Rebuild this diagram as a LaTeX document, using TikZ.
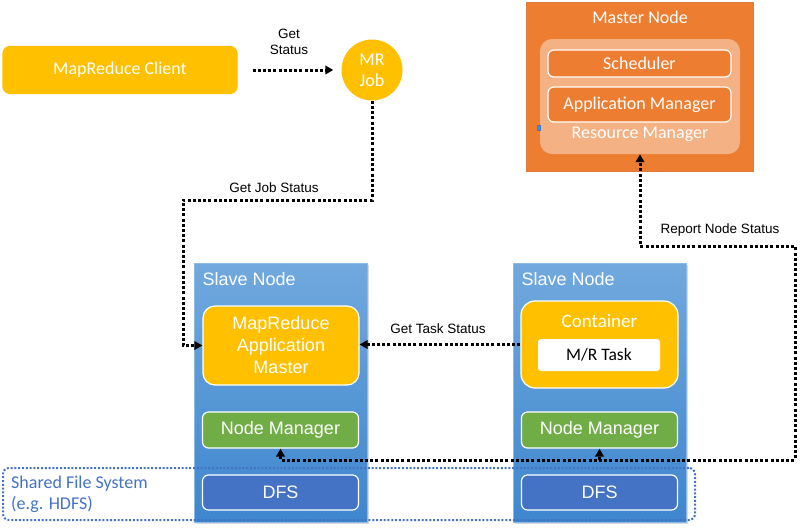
\documentclass[tikz,border=0pt]{standalone}
\usepackage{fontspec}
\setmainfont{Liberation Sans}
\newfontfamily\calibri{Carlito}
\usetikzlibrary{positioning,arrows.meta,shadows}
\definecolor{mryellow}{RGB}{255, 192, 0}
\definecolor{mrorange}{RGB}{237, 125, 49}
\definecolor{mrgreen}{RGB}{112, 173, 71}
\definecolor{mrblue}{RGB}{68, 114, 196}
\definecolor{slavetop}{RGB}{113, 169, 222}
\definecolor{slavebottom}{RGB}{62, 134, 206}

\begin{document}
\begin{tikzpicture}[x=1pt, y=-1pt,
    >={Triangle[length=8pt, width=8.5pt]},
    box/.style={draw=white, line width=1.2pt, rounded corners=6pt, text=white, align=center, inner sep=0pt, font=\fontsize{18}{22}\selectfont},
    yellowbox/.style={box, fill=mryellow},
    orangebox/.style={box, fill=mrorange, minimum width=183, font=\calibri\fontsize{18}{22}\selectfont},
    greenbox/.style={box, fill=mrgreen, minimum width=156, minimum height=36},
    dfsbox/.style={box, fill=mrblue, minimum width=156, minimum height=35},
    slave/.style={top color=slavetop, bottom color=slavebottom, draw=slavetop!80!white, line width=0.5pt, minimum width=173, minimum height=259, drop shadow={shadow xshift=1.5pt, shadow yshift=-1.5pt, opacity=0.3}},
    title/.style={text=white, inner sep=0pt, font=\fontsize{18}{22}\selectfont},
    calititle/.style={text=white, inner sep=0pt, font=\calibri\fontsize{18}{22}\selectfont},
    link/.style={draw, line width=3pt, dash pattern=on 3pt off 2.2pt},
    linklabel/.style={align=center, inner sep=0pt, font=\fontsize{13.5}{16}\selectfont}
    ]
    \useasboundingbox (0,0) rectangle (800,528);

    % Client and job
    \node[yellowbox, draw=mryellow, rounded corners=7pt, minimum width=234, minimum height=47, font=\calibri\fontsize{18}{22}\selectfont] (client) at (120,70) {MapReduce Client};
    \node[circle, fill=mryellow, minimum size=61, inner sep=0pt, text=white, align=center, font=\calibri\fontsize{18}{21}\selectfont] (job) at (372,70) {MR\\Job};

    % Master node
    \node[fill=mrorange, draw=mrorange!85!gray, line width=0.6pt, minimum width=227, minimum height=169] (master) at (639.5,86.5) {};
    \node[calititle] (masterlabel) at (640,17) {Master Node};
    \node[fill=mrorange!60!white, rounded corners=12pt, minimum width=200, minimum height=115] (rm) at (640,96.5) {};
    \node[orangebox, minimum height=27] (sched) at (639.5,63.5) {Scheduler};
    \node[orangebox, minimum height=35] (appmgr) at (639.5,104.5) {Application Manager};
    \node[calititle] (rmlabel) at (640,134) {Resource Manager};
    \node[fill=mrblue!70!cyan, draw=mrblue, line width=0.3pt, minimum width=3, minimum height=5, inner sep=0pt] (handle) at (539,128) {};

    % Slave nodes
    \foreach [count = \i] \x in {280.5, 599.5} {
        \node[slave] (slave\i) at (\x,392.5) {};
        \node[title, anchor=west] (slavelabel\i) at (\x-78,279) {Slave Node};
        \node[greenbox] (nm\i) at (\x,430) {Node Manager};
        \node[dfsbox] (dfs\i) at (\x,492.5) {DFS};
    }
    \node[yellowbox, rounded corners=12pt, minimum width=156, minimum height=79] (am) at (281,345.5) {MapReduce\\Application\\Master};
    \node[yellowbox, rounded corners=14pt, minimum width=157, minimum height=87] (ct) at (599.5,344.5) {};
    \node[calititle, font=\calibri\fontsize{19}{22}\selectfont] (ctlabel) at (599.5,321) {Container};
    \node[fill=white, rounded corners=3pt, minimum width=122, minimum height=32, inner sep=0pt, font=\calibri\fontsize{17.5}{21}\selectfont] (task) at (599,355) {M/R Task};

    % Shared file system
    \node[draw=mrblue, line width=2pt, dash pattern=on 2pt off 1.8pt, rounded corners=6pt, minimum width=692, minimum height=52] (sfs) at (349,494) {};
    \node[anchor=west, align=left, inner sep=0pt, text=mrblue, font=\calibri\fontsize{18}{21}\selectfont] (sfslabel) at (11,494) {Shared File System\\(e.g. HDFS)};

    % Status links
    \coordinate (jobturn) at (183,200);
    \coordinate (rbot) at (795,460);
    \coordinate (rtop) at (795,246);
    \draw[link, ->, shorten <=15pt, shorten >=8pt] (client.east) -- (job.west);
    \node[linklabel] (getstatus) at (289,42) {Get\\Status};
    \draw[link, ->] (job.south) |- (jobturn) |- (am.west);
    \node[linklabel] (jobstatus) at (274,188) {Get Job Status};
    \draw[link, ->] (ct.west) -- (ct.west -| am.east);
    \node[linklabel] (taskstatus) at (438,329) {Get Task Status};
    \draw[link, <->] (nm1.south) |- (rbot) -- (rtop) -| (rm.south);
    \draw[link, ->] (nm2.south |- rbot) -- (nm2.south);
    \node[linklabel] (nodestatus) at (720,230) {Report Node Status};
\end{tikzpicture}
\end{document}
